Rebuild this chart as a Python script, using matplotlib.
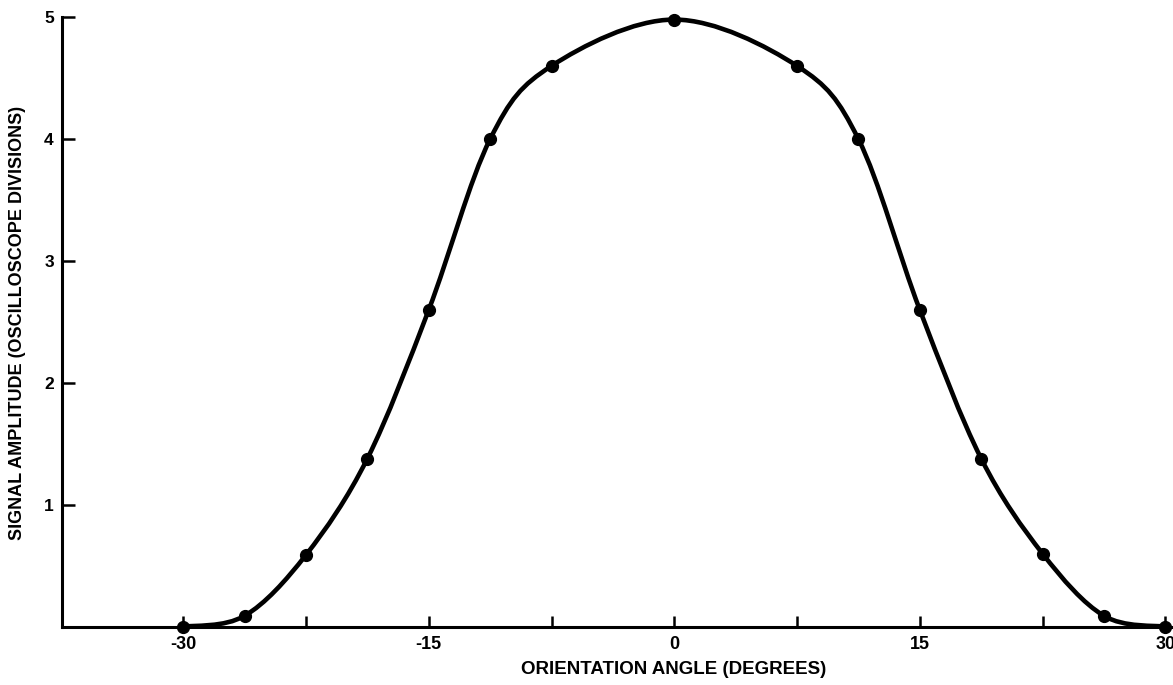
import matplotlib.pyplot as plt
from matplotlib.path import Path
from matplotlib.patches import PathPatch
import numpy as np

plt.rcParams['font.family'] = ['Liberation Sans', 'DejaVu Sans']

# measured response vs. orientation
angle = [-30, -26.25, -22.5, -18.75, -15, -11.25, -7.5, 0,
         7.5, 11.25, 15, 18.75, 22.5, 26.25, 30]
amplitude = [0.0, 0.09, 0.59, 1.38, 2.6, 4.0, 4.6, 4.98,
             4.6, 4.0, 2.6, 1.38, 0.6, 0.09, 0.0]

xticks = [-30, -22.5, -15, -7.5, 0, 7.5, 15, 22.5, 30]
xticklabels = ['-30', '', '-15', '', '0', '', '15', '', '30']
yticks = [1, 2, 3, 4, 5]
yticklabels = ['1', '2', '3', '4', '5']

fig = plt.figure(figsize=(11.73, 6.85), dpi=100)
ax = fig.add_axes([0.053, 0.085, 0.946, 0.89])

# smooth curve through the points (Catmull-Rom -> cubic bezier segments)
pts = np.column_stack([angle, amplitude])
ext = np.vstack([pts[0], pts, pts[-1]])
verts = [tuple(pts[0])]
codes = [Path.MOVETO]
for i in range(1, len(ext) - 2):
    p0, p1, p2, p3 = ext[i - 1], ext[i], ext[i + 1], ext[i + 2]
    c1 = p1 + (p2 - p0) / 6.0
    c2 = p2 - (p3 - p1) / 6.0
    verts += [tuple(c1), tuple(c2), tuple(p2)]
    codes += [Path.CURVE4] * 3
curve = PathPatch(Path(verts, codes), fill=False, lw=3.3, edgecolor='black',
                  capstyle='round', joinstyle='round', clip_on=False)
ax.add_patch(curve)
ax.plot(angle, amplitude, 'o', color='black', markersize=8.5, clip_on=False)

ax.set_xlim(-37.4, 30.4)
ax.set_ylim(0, 5)

for side in ['top', 'right']:
    ax.spines[side].set_visible(False)
for side in ['left', 'bottom']:
    ax.spines[side].set_linewidth(2.2)

ax.set_xticks(xticks)
ax.set_xticklabels(xticklabels, fontsize=13, fontweight='bold')
ax.set_yticks(yticks)
ax.set_yticklabels(yticklabels, fontsize=12.5, fontweight='bold')
ax.tick_params(axis='x', direction='in', length=8, width=1.8, pad=7)
ax.tick_params(axis='y', direction='in', length=9, width=1.8, pad=6)

ax.set_xlabel('ORIENTATION ANGLE (DEGREES)', fontsize=13.5, fontweight='bold')
ax.xaxis.set_label_coords(0.551, -0.056)
ax.set_ylabel('SIGNAL AMPLITUDE (OSCILLOSCOPE DIVISIONS)', fontsize=13, fontweight='bold')
ax.yaxis.set_label_coords(-0.033, 0.498)

plt.savefig('out.png', dpi=100)
